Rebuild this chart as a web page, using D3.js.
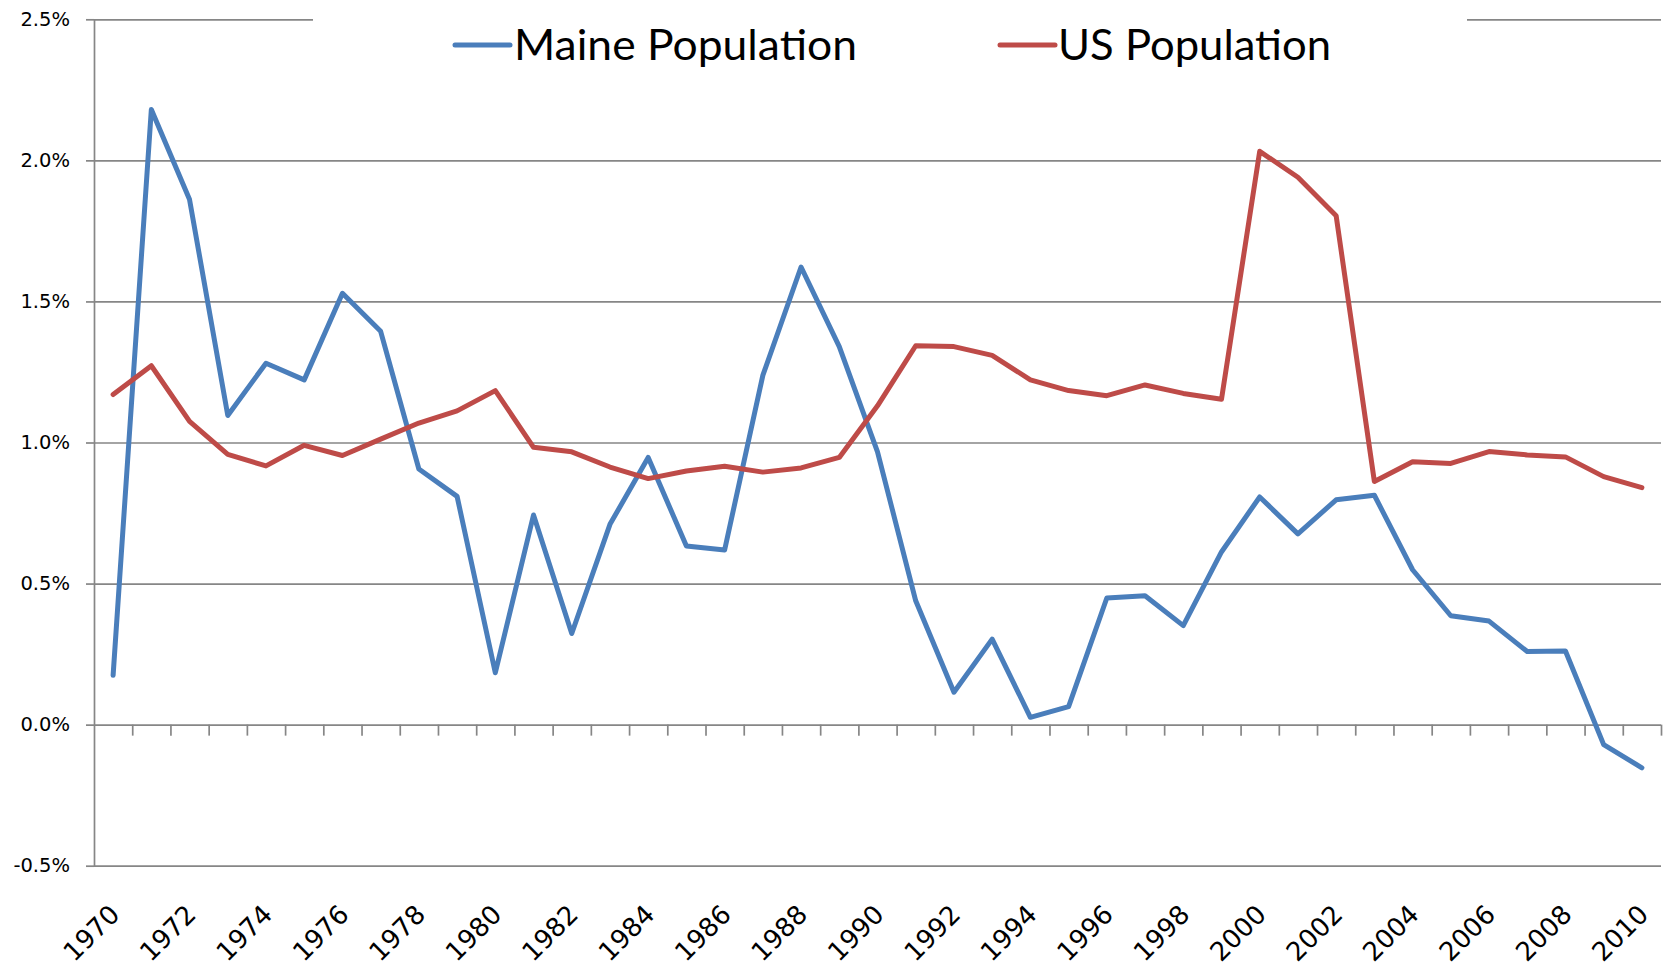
<!DOCTYPE html>
<html>
<head>
<meta charset="utf-8">
<script src="https://cdn.jsdelivr.net/npm/d3@7"></script>
<style>
  html, body { margin: 0; padding: 0; background: #fff; }
  svg { display: block; }
  .year-label { font-family: "DejaVu Sans", Verdana, sans-serif; font-size: 26px; }
</style>
</head>
<body>
<div id="chart-container"></div>
<script>
// yearly population growth, percent
const years = d3.range(1970, 2011)
const maineGrowth = [
  0.175, 2.18, 1.861, 1.096, 1.281, 1.222, 1.529, 1.394, 0.906, 0.809,
  0.184, 0.743, 0.323, 0.710, 0.947, 0.633, 0.619, 1.238, 1.622, 1.340,
  0.967, 0.439, 0.115, 0.303, 0.026, 0.064, 0.449, 0.457, 0.351, 0.612,
  0.807, 0.676, 0.797, 0.813, 0.549, 0.386, 0.367, 0.259, 0.261, -0.071,
  -0.153
]
const usGrowth = [
  1.170, 1.272, 1.075, 0.958, 0.917, 0.990, 0.954, 1.012, 1.069, 1.112,
  1.184, 0.983, 0.967, 0.913, 0.872, 0.899, 0.916, 0.895, 0.910, 0.947,
  1.130, 1.343, 1.340, 1.309, 1.222, 1.184, 1.166, 1.204, 1.174, 1.153,
  2.032, 1.940, 1.804, 0.862, 0.932, 0.926, 0.968, 0.956, 0.949, 0.879,
  0.840
]
const yTicks = [-0.5, 0, 0.5, 1.0, 1.5, 2.0, 2.5]
const labelYears = years.filter(y => y % 2 === 0)
const seriesNames = ['Maine Population', 'US Population']

const svgWidth = 1667, svgHeight = 972
const plotLeft = 94, plotRight = 1661, plotTop = 19.3, plotBottom = 865.7
const gridColor = '#868686'
const colors = ['#4a7ebb', '#be4b48']

const svg = d3.select('#chart-container')
  .append('svg')
  .attr('width', svgWidth)
  .attr('height', svgHeight)

const x = d3.scaleBand()
  .domain(years)
  .range([plotLeft, plotRight])
  .padding(0)

// tick marks sit between the categories
const xEdges = d3.scaleLinear()
  .domain([0, years.length])
  .range([plotLeft, plotRight])

const y = d3.scaleLinear()
  .domain([-0.5, 2.5])
  .range([plotBottom, plotTop])

// gridlines
svg.append('g')
  .attr('transform', `translate(${plotLeft},0)`)
  .call(d3.axisLeft(y).tickValues(yTicks).tickSize(-(plotRight - plotLeft)).tickFormat(''))
  .call(g => g.select('.domain').remove())
  .call(g => g.selectAll('line').attr('stroke', gridColor).attr('stroke-width', 1.7))

// short outside ticks + labels on the value axis
svg.append('g')
  .attr('transform', `translate(${plotLeft},0)`)
  .call(d3.axisLeft(y).tickValues(yTicks).tickSize(8).tickSizeOuter(0).tickPadding(16)
    .tickFormat(d => d.toFixed(1) + '%'))
  .call(g => g.select('.domain').attr('stroke', gridColor).attr('stroke-width', 1.7))
  .call(g => g.selectAll('line').attr('stroke', gridColor).attr('stroke-width', 1.7))
  .call(g => g.selectAll('text')
    .attr('fill', '#000')
    .style('font-family', '"DejaVu Sans", Verdana, sans-serif')
    .style('font-size', '19.5px'))

// category axis at 0%
svg.append('g')
  .attr('transform', `translate(0,${y(0)})`)
  .call(d3.axisBottom(xEdges).tickValues(d3.range(1, years.length + 1)).tickSize(11).tickSizeOuter(0).tickFormat(''))
  .call(g => g.select('.domain').remove())
  .call(g => g.selectAll('line').attr('stroke', gridColor).attr('stroke-width', 1.7))

svg.append('g')
  .selectAll('text')
  .data(labelYears)
  .enter()
  .append('text')
  .attr('class', 'year-label')
  .attr('transform', d => `translate(${x(d) + x.bandwidth() / 2 + 8},916) rotate(-45)`)
  .attr('text-anchor', 'end')
  .attr('fill', '#000')
  .text(d => d)

// lines
const line = d3.line()
  .x((d, i) => x(years[i]) + x.bandwidth() / 2)
  .y(d => y(d))

const allSeries = [maineGrowth, usGrowth]
svg.append('g')
  .selectAll('path')
  .data(allSeries)
  .enter()
  .append('path')
  .attr('d', d => line(d))
  .attr('fill', 'none')
  .attr('stroke', (d, i) => colors[i])
  .attr('stroke-width', 5)
  .attr('stroke-linejoin', 'round')
  .attr('stroke-linecap', 'round')

// legend (white box hides the top gridline)
const legend = svg.append('g')
legend.append('rect')
  .attr('x', 313).attr('y', 0)
  .attr('width', 1467 - 313).attr('height', 76)
  .attr('fill', '#fff')

const legendItems = [
  {x0: 455, textX: 514, width: 343},
  {x0: 1000, textX: 1058, width: 273}
]
legendItems.forEach((item, i) => {
  legend.append('line')
    .attr('x1', item.x0).attr('x2', item.x0 + 55)
    .attr('y1', 45).attr('y2', 45)
    .attr('stroke', colors[i])
    .attr('stroke-width', 5)
    .attr('stroke-linecap', 'round')
  legend.append('text')
    .attr('x', item.textX)
    .attr('y', 60)
    .attr('textLength', item.width)
    .attr('lengthAdjust', 'spacingAndGlyphs')
    .style('font-family', 'Lato, "Open Sans", sans-serif')
    .style('font-size', '42px')
    .attr('fill', '#000')
    .text(seriesNames[i])
})
</script>
</body>
</html>
